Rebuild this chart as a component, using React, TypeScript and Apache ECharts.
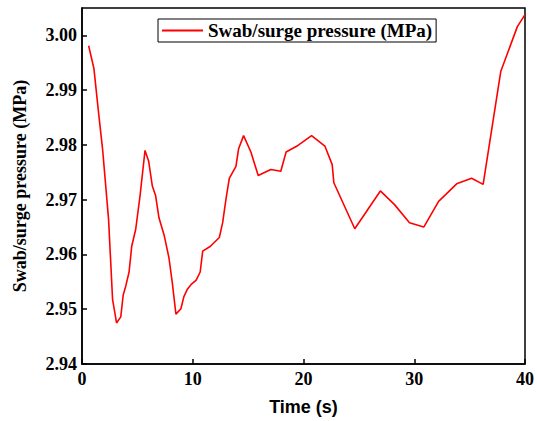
import React, { useEffect, useRef } from "react";
import * as echarts from "echarts";

const timeS = [0.6, 1.08, 1.5, 1.86, 2.4, 2.76, 3.12, 3.5, 3.72, 3.96, 4.25, 4.49, 4.85, 5.24, 5.69, 6.02, 6.35, 6.65, 6.95, 7.43, 7.85, 8.15, 8.48, 8.93, 9.2, 9.53, 9.89, 10.31, 10.67, 10.9, 11.6, 12.4, 12.7, 13.0, 13.3, 13.9, 14.14, 14.59, 15.25, 15.91, 17.05, 17.95, 18.43, 19.5, 20.73, 21.93, 22.59, 22.74, 24.63, 26.94, 28.22, 29.57, 30.86, 32.2, 33.83, 35.18, 36.22, 37.81, 39.31, 40.0];
const pressure = [2.9981, 2.9939, 2.9858, 2.9792, 2.9664, 2.9518, 2.9475, 2.9486, 2.9526, 2.9543, 2.9568, 2.9615, 2.9646, 2.9707, 2.979, 2.977, 2.9725, 2.9707, 2.9667, 2.9634, 2.9594, 2.9549, 2.9491, 2.9501, 2.9523, 2.9537, 2.9546, 2.9553, 2.9568, 2.9606, 2.9615, 2.9631, 2.9658, 2.9701, 2.9739, 2.9761, 2.9793, 2.9817, 2.9787, 2.9744, 2.9755, 2.9752, 2.9787, 2.9799, 2.9817, 2.9798, 2.9764, 2.9731, 2.9647, 2.9716, 2.9691, 2.9658, 2.965, 2.9697, 2.9729, 2.9739, 2.9728, 2.9934, 3.0016, 3.0038];
const seriesName = "Swab/surge pressure (MPa)";
const xTitle = "Time (s)";
const yTitle = "Swab/surge pressure (MPa)";

const serif = "'Liberation Serif', 'Times New Roman', serif";
const sans = "'Liberation Sans', Arial, sans-serif";

export default function App() {
  const ref = useRef<HTMLDivElement>(null);
  useEffect(() => {
    if (!ref.current) return;
    const chart = echarts.init(ref.current, undefined, { renderer: "svg" });
    const data = timeS.map((t, i) => [t, pressure[i]]);
    chart.setOption({
      animation: false,
      backgroundColor: "#fff",
      grid: {
        left: 82,
        right: 10,
        top: 8,
        bottom: 56,
        show: true,
        borderColor: "#000",
        borderWidth: 1.5,
        backgroundColor: "transparent",
      },
      legend: {
        left: 158,
        top: 19,
        padding: [2, 4, 2, 4],
        borderColor: "#000",
        borderWidth: 1,
        backgroundColor: "#fff",
        itemWidth: 41,
        itemHeight: 2,
        textStyle: { fontFamily: serif, fontWeight: "bold", fontSize: 19, color: "#000" },
        data: [{ name: seriesName, icon: "rect" }],
      },
      xAxis: {
        type: "value",
        min: 0,
        max: 40,
        interval: 10,
        name: xTitle,
        nameLocation: "middle",
        nameGap: 34,
        nameTextStyle: { fontFamily: sans, fontWeight: "bold", fontSize: 18, color: "#000" },
        axisLine: { show: true, lineStyle: { color: "#000", width: 1.5 } },
        axisTick: { show: true, inside: true, length: 5, lineStyle: { color: "#000", width: 1.5 } },
        axisLabel: { fontFamily: serif, fontWeight: "bold", fontSize: 18, color: "#000", margin: 6 },
        splitLine: { show: false },
      },
      yAxis: {
        type: "value",
        min: 2.94,
        max: 3.005,
        interval: 0.01,
        name: yTitle,
        nameLocation: "middle",
        nameGap: 53,
        nameTextStyle: { fontFamily: serif, fontWeight: "bold", fontSize: 18, color: "#000" },
        axisLine: { show: true, lineStyle: { color: "#000", width: 1.5 } },
        axisTick: { show: true, inside: true, length: 5, lineStyle: { color: "#000", width: 1.5 } },
        axisLabel: {
          fontFamily: serif,
          fontWeight: "bold",
          fontSize: 18,
          color: "#000",
          margin: 5,
          showMaxLabel: false,
          formatter: (v: number) => v.toFixed(2),
        },
        splitLine: { show: false },
      },
      series: [
        {
          name: seriesName,
          type: "line",
          data,
          symbol: "none",
          lineStyle: { color: "#ff0000", width: 1.6 },
          itemStyle: { color: "#ff0000" },
        },
      ],
    });
    return () => chart.dispose();
  }, []);
  return (
    <div
      ref={ref}
      style={{ position: "fixed", left: 0, top: 0, width: 537, height: 421 }}
    />
  );
}
